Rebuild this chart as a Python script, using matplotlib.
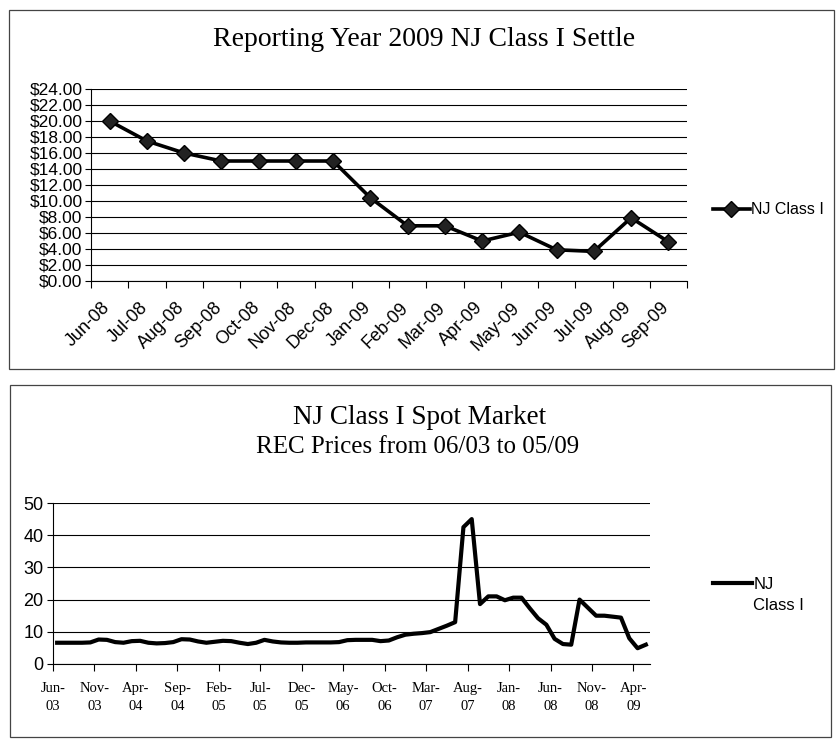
import numpy as np
import matplotlib
matplotlib.use("Agg")
import matplotlib.pyplot as plt
import matplotlib.transforms as mtransforms
from matplotlib.patches import Rectangle
from matplotlib.legend_handler import HandlerLine2D

# top chart: monthly settle prices, reporting year 2009
settle_months = ["Jun-08", "Jul-08", "Aug-08", "Sep-08", "Oct-08", "Nov-08", "Dec-08", "Jan-09",
                 "Feb-09", "Mar-09", "Apr-09", "May-09", "Jun-09", "Jul-09", "Aug-09", "Sep-09"]
settle_prices = [20.0, 17.5, 16.0, 15.0, 15.0, 15.0, 15.0, 10.4,
                 6.9, 6.9, 5.0, 6.1, 3.9, 3.7, 7.9, 4.9]

# bottom chart: spot market, monthly from Jun-03 to May-09
spot_prices = [6.6, 6.6, 6.6, 6.6, 6.7, 7.6, 7.5, 6.8, 6.6, 7.1, 7.2, 6.6,
               6.4, 6.5, 6.8, 7.7, 7.6, 7.0, 6.6, 6.9, 7.2, 7.1, 6.6, 6.2,
               6.6, 7.5, 7.0, 6.7, 6.6, 6.6, 6.7, 6.7, 6.7, 6.7, 6.8, 7.4,
               7.5, 7.5, 7.5, 7.1, 7.3, 8.3, 9.1, 9.4, 9.6, 9.9, 10.9, 11.9,
               13.0, 42.5, 45.0, 18.6, 21.0, 21.0, 19.8, 20.6, 20.6, 17.3, 14.2, 12.2,
               7.8, 6.2, 6.0, 20.0, 17.5, 15.0, 15.0, 14.7, 14.4, 8.0, 4.9, 6.0]
spot_tick_labels = ["Jun-\n03", "Nov-\n03", "Apr-\n04", "Sep-\n04", "Feb-\n05", "Jul-\n05",
                    "Dec-\n05", "May-\n06", "Oct-\n06", "Mar-\n07", "Aug-\n07", "Jan-\n08",
                    "Jun-\n08", "Nov-\n08", "Apr-\n09"]

W, H = 839, 751
fig = plt.figure(figsize=(W / 100, H / 100), dpi=100)

def fx(px):
    return px / W

def fy(py):
    return 1 - py / H

serif = "Liberation Serif"
sans = "Liberation Sans"


class FirstLineHandler(HandlerLine2D):
    # put the legend line level with the first line of a two-line label
    def create_artists(self, legend, orig_handle, xdescent, ydescent, width, height,
                       fontsize, trans):
        artists = super().create_artists(legend, orig_handle, xdescent, ydescent,
                                         width, height, fontsize, trans)
        for a in artists:
            a.set_ydata(np.asarray(a.get_ydata()) + 0.72 * fontsize)
        return artists


# panel frames
fig.add_artist(Rectangle((fx(9), fy(369)), fx(825), 359 / H, transform=fig.transFigure,
                         fill=False, edgecolor="#444444", linewidth=0.9))
fig.add_artist(Rectangle((fx(10), fy(737)), fx(821), 352 / H, transform=fig.transFigure,
                         fill=False, edgecolor="#444444", linewidth=0.9))

# ---- top chart ----
ax1 = fig.add_axes([fx(91), fy(281), fx(596), (281 - 89) / H])
x1 = np.arange(len(settle_prices))
ax1.plot(x1, settle_prices, color="black", linewidth=2.6, marker="D", markersize=8,
         markerfacecolor="#222222", markeredgecolor="black", label="NJ Class I")
ax1.set_xlim(-0.5, len(settle_prices) - 0.5)
ax1.set_ylim(0, 24)
yt = np.arange(0, 25, 2)
ax1.set_yticks(yt)
ax1.set_yticklabels(["$%d.00" % v for v in yt], fontsize=12.5, family=sans)
ax1.yaxis.grid(True, color="black", linewidth=0.8)
ax1.set_axisbelow(True)
ax1.set_xticks(np.arange(-0.5, len(settle_prices), 1.0))
ax1.set_xticklabels([])
ax1.set_xticks(x1, minor=True)
ax1.set_xticklabels(settle_months, minor=True, rotation=45, ha="right",
                    rotation_mode="anchor", fontsize=13, family=sans)
ax1.tick_params(axis="x", which="minor", length=0, pad=13)
ax1.tick_params(axis="x", which="major", length=5, direction="out")
ax1.tick_params(axis="y", length=4, pad=2)
shift = mtransforms.ScaledTranslation(-8 / 100, 0, fig.dpi_scale_trans)
for lab in ax1.get_xticklabels(minor=True):
    lab.set_transform(lab.get_transform() + shift)
for s in ["top", "right"]:
    ax1.spines[s].set_visible(False)
ax1.legend(loc="center left", bbox_to_anchor=(fx(705), fy(210)), bbox_transform=fig.transFigure,
           frameon=False, handlelength=2.3, handletextpad=0.1, borderpad=0,
           prop={"family": sans, "size": 11.5})

fig.text(fx(424), fy(40), "Reporting Year 2009 NJ Class I Settle", family=serif,
         fontsize=20, ha="center", va="center")

# ---- bottom chart ----
ax2 = fig.add_axes([fx(53), fy(664), fx(597), (664 - 503) / H])
x2 = np.arange(len(spot_prices))
line2, = ax2.plot(x2, spot_prices, color="black", linewidth=3.0, label="NJ\nClass I")
ax2.set_xlim(-0.5, len(spot_prices) - 0.5)
ax2.set_ylim(0, 50)
ax2.set_yticks(np.arange(0, 51, 10))
ax2.tick_params(axis="y", labelsize=13, length=4, pad=3)
for lab in ax2.get_yticklabels():
    lab.set_family(sans)
ax2.yaxis.grid(True, color="black", linewidth=0.8)
ax2.set_axisbelow(True)
ax2.set_xticks(np.arange(-0.5, len(spot_prices), 5))
ax2.set_xticklabels(spot_tick_labels, fontsize=10.5, family=serif, linespacing=1.5)
ax2.tick_params(axis="x", length=5, pad=8)
for s in ["top", "right"]:
    ax2.spines[s].set_visible(False)
leg2 = ax2.legend(loc="upper left", bbox_to_anchor=(fx(705), fy(569)),
                  bbox_transform=fig.transFigure, frameon=False, handlelength=2.3,
                  handletextpad=0.1, borderpad=0, prop={"family": sans, "size": 12},
                  handler_map={line2: FirstLineHandler()})
leg2.get_texts()[0].set_linespacing(1.45)

fig.text(fx(420), fy(417), "NJ Class I Spot Market", family=serif, fontsize=19.5,
         ha="center", va="center")
fig.text(fx(418), fy(447), "REC Prices from 06/03 to 05/09", family=serif, fontsize=18,
         ha="center", va="center")

fig.savefig("out.png", dpi=100)
